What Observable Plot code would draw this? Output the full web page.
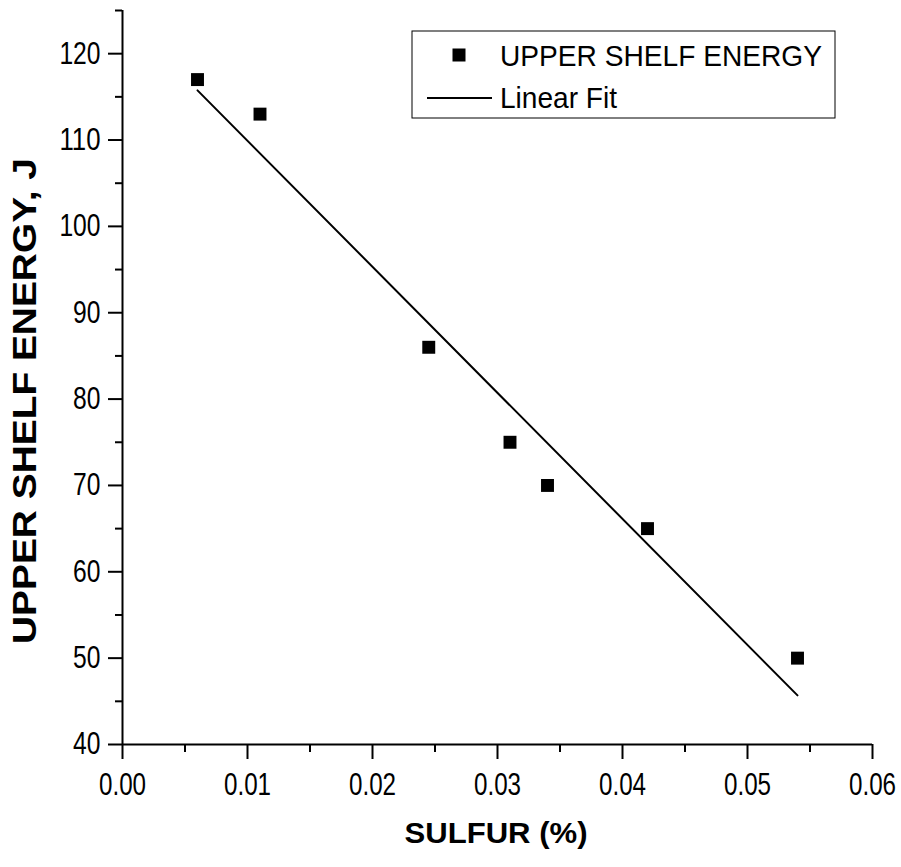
<!DOCTYPE html>
<html>
<head>
<meta charset="utf-8">
<script src="https://cdn.jsdelivr.net/npm/d3@7"></script>
<script src="https://cdn.jsdelivr.net/npm/@observablehq/plot@0.6"></script>
<style>
  html, body { margin: 0; padding: 0; background: white; }
  #chart { width: 901px; height: 867px; }
</style>
</head>
<body>
<div id="chart"></div>
<script>
// Data
const sulfur = [0.006, 0.011, 0.0245, 0.031, 0.034, 0.042, 0.054];
const energy = [117, 113, 86, 75, 70, 65, 50];

// Tick values
const xMajorTicks = [0, 0.01, 0.02, 0.03, 0.04, 0.05, 0.06];
const xMinorTicks = [0.005, 0.015, 0.025, 0.035, 0.045, 0.055];
const yMajorTicks = [40, 50, 60, 70, 80, 90, 100, 110, 120];
const yMinorTicks = [45, 55, 65, 75, 85, 95, 105, 115, 125];

const xTitle = "SULFUR (%)";
const yTitle = "UPPER SHELF ENERGY, J";
const seriesName = "UPPER SHELF ENERGY";
const fitName = "Linear Fit";

const data = sulfur.map((s, i) => ({sulfur: s, energy: energy[i]}));

const baseFont = "'Liberation Sans', Arial, sans-serif";
const fmtX = d3.format(".2f");

const chart = Plot.plot({
  width: 901,
  height: 867,
  marginLeft: 122,
  marginRight: 29,
  marginTop: 10,
  marginBottom: 123,
  x: {domain: [0, 0.06]},
  y: {domain: [40, 125]},
  style: {fontFamily: baseFont, fontSize: "30px", color: "black", background: "white", overflow: "visible"},
  marks: [
    Plot.axisX({ticks: xMajorTicks, tickSize: 15, tickFormat: () => "", strokeWidth: 2, label: null}),
    Plot.axisX({ticks: xMinorTicks, tickSize: 8, tickFormat: () => "", strokeWidth: 2, label: null}),
    Plot.axisY({ticks: yMajorTicks, tickSize: 14, tickFormat: () => "", strokeWidth: 2, label: null}),
    Plot.axisY({ticks: yMinorTicks, tickSize: 7, tickFormat: () => "", strokeWidth: 2, label: null}),
    Plot.text(xMajorTicks, {x: d => d, frameAnchor: "bottom", lineAnchor: "top", dy: 28, text: d => fmtX(d), fontSize: 31, fill: "black"}),
    Plot.text(yMajorTicks, {y: d => d, frameAnchor: "left", textAnchor: "end", dx: -22, text: d => String(d), fontSize: 31, fill: "black"}),
    Plot.ruleY([40], {strokeWidth: 2}),
    Plot.ruleX([0], {strokeWidth: 2}),
    Plot.linearRegressionY(data, {x: "sulfur", y: "energy", ci: 0, stroke: "black", strokeWidth: 2}),
    Plot.dot(data, {x: "sulfur", y: "energy", symbol: "square", r: 7.3, fill: "black", stroke: "none"})
  ]
});

document.getElementById("chart").appendChild(chart);

const svg = d3.select(chart);

// Tick labels: tall but narrow face, as in the reference
svg.selectAll("text").each(function () {
  const s = (this.textContent || "").trim();
  if (/^[0-9.]+$/.test(s)) {
    const digits = (s.match(/[0-9]/g) || []).length;
    const dots = (s.match(/\./g) || []).length;
    this.setAttribute("textLength", String(digits * 13.7 + dots * 6));
    this.setAttribute("lengthAdjust", "spacingAndGlyphs");
  }
});

// Titles and legend
svg.append("text")
  .attr("x", 496).attr("y", 843)
  .attr("text-anchor", "middle")
  .attr("font-family", baseFont).attr("font-weight", "bold").attr("font-size", 30)
  .attr("textLength", 183).attr("lengthAdjust", "spacingAndGlyphs")
  .attr("fill", "black")
  .text(xTitle);

svg.append("text")
  .attr("transform", "translate(36,401) rotate(-90)")
  .attr("text-anchor", "middle")
  .attr("font-family", baseFont).attr("font-weight", "bold").attr("font-size", 33)
  .attr("textLength", 486).attr("lengthAdjust", "spacingAndGlyphs")
  .attr("fill", "black")
  .text(yTitle);

const lg = svg.append("g").attr("text-anchor", "start");
lg.append("rect").attr("x", 412).attr("y", 31).attr("width", 423).attr("height", 87)
  .attr("fill", "white").attr("stroke", "black").attr("stroke-width", 1);
lg.append("rect").attr("x", 452.5).attr("y", 48.5).attr("width", 13).attr("height", 13).attr("fill", "black");
lg.append("line").attr("x1", 427).attr("x2", 492).attr("y1", 98).attr("y2", 98)
  .attr("stroke", "black").attr("stroke-width", 2);
lg.append("text").attr("x", 500).attr("y", 66).attr("text-anchor", "start")
  .attr("font-family", baseFont).attr("font-size", 30)
  .attr("textLength", 322).attr("lengthAdjust", "spacingAndGlyphs")
  .text(seriesName);
lg.append("text").attr("x", 500).attr("y", 108).attr("text-anchor", "start")
  .attr("font-family", baseFont).attr("font-size", 30)
  .attr("textLength", 117).attr("lengthAdjust", "spacingAndGlyphs")
  .text(fitName);
</script>
</body>
</html>
